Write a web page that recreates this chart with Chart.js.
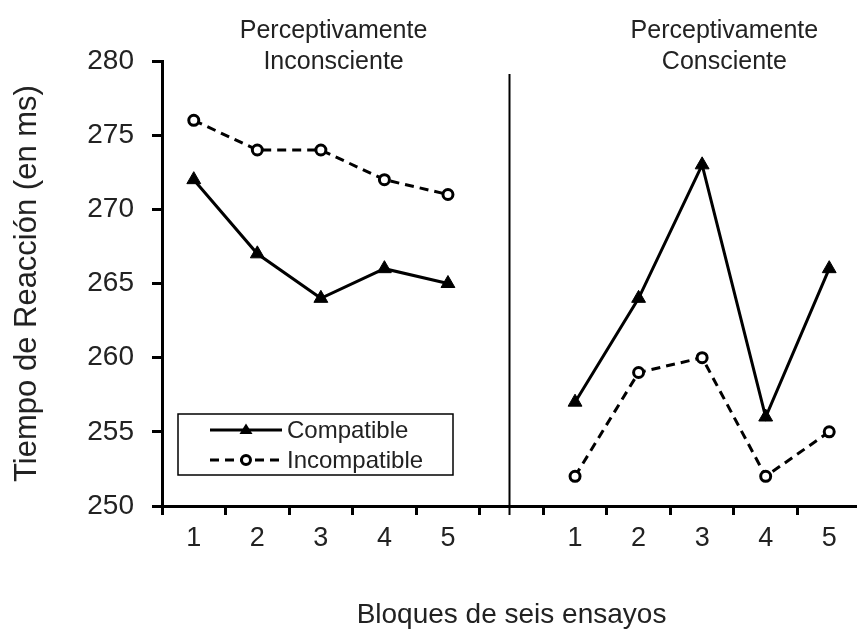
<!DOCTYPE html>
<html>
<head>
<meta charset="utf-8">
<script src="https://cdn.jsdelivr.net/npm/chart.js@4/dist/chart.umd.min.js"></script>
<style>
  html, body { margin: 0; padding: 0; background: #fff; overflow: hidden; }
  #wrap { width: 870px; height: 632px; }
</style>
</head>
<body>
<div id="wrap"><canvas id="chart"></canvas></div>
<script>
// ─── DATOS ──────────────────────────────────
const bloques = ['1', '2', '3', '4', '5'];
const paneles = ['Perceptivamente\nInconsciente', 'Perceptivamente\nConsciente'];

const compatInconsciente = [272, 267, 264, 266, 265];
const incompatInconsciente = [276, 274, 274, 272, 271];
const compatConsciente = [257, 264, 273, 256, 266];
const incompatConsciente = [252, 259, 260, 252, 255];

const yTicks = [250, 255, 260, 265, 270, 275, 280];

// un hueco entre los dos paneles
const labels = [...bloques, '', ...bloques];
const compatible = [...compatInconsciente, null, ...compatConsciente];
const incompatible = [...incompatInconsciente, null, ...incompatConsciente];

const TXT = '#222';
const FONT = "'Liberation Sans', Arial, sans-serif";

// ─── PLUGIN: divisor, títulos de panel y leyenda ──────────
const decor = {
  id: 'decor',
  afterDraw(chart) {
    const { ctx, scales: { x }, chartArea } = chart;
    ctx.save();

    // línea divisoria
    const xd = x.getPixelForValue(5) - 2;
    ctx.strokeStyle = '#000';
    ctx.lineWidth = 2;
    ctx.beginPath();
    ctx.moveTo(xd, 74);
    ctx.lineTo(xd, chartArea.bottom + 9);
    ctx.stroke();

    // títulos de panel
    ctx.fillStyle = TXT;
    ctx.font = '25px ' + FONT;
    ctx.textAlign = 'center';
    ctx.textBaseline = 'middle';
    [2.2, 8.35].forEach((idx, p) => {
      const cx = x.getPixelForValue(idx);
      paneles[p].split('\n').forEach((t, i) => ctx.fillText(t, cx, 31 + i * 31));
    });

    // leyenda
    ctx.lineWidth = 1.5;
    ctx.strokeStyle = '#000';
    ctx.strokeRect(178, 414, 275, 61);
    const rows = [
      { ds: chart.data.datasets[0], y: 430 },
      { ds: chart.data.datasets[1], y: 460 }
    ];
    rows.forEach(({ ds, y }) => {
      ctx.strokeStyle = '#000';
      ctx.lineWidth = ds.borderWidth;
      ctx.setLineDash(ds.borderDash || []);
      ctx.beginPath();
      ctx.moveTo(210, y);
      ctx.lineTo(282, y);
      ctx.stroke();
      ctx.setLineDash([]);
      const mx = 246;
      if (ds.pointStyle === 'triangle') {
        const r = 6.5;
        ctx.fillStyle = '#000';
        ctx.beginPath();
        ctx.moveTo(mx, y - r);
        ctx.lineTo(mx + r, y + r * 0.6);
        ctx.lineTo(mx - r, y + r * 0.6);
        ctx.closePath();
        ctx.fill();
      } else {
        ctx.fillStyle = '#fff';
        ctx.lineWidth = 3;
        ctx.beginPath();
        ctx.arc(mx, y, 4.5, 0, Math.PI * 2);
        ctx.fill();
        ctx.stroke();
      }
      ctx.fillStyle = TXT;
      ctx.font = '24px ' + FONT;
      ctx.textAlign = 'left';
      ctx.fillText(ds.label, 287, y + 1);
    });

    ctx.restore();
  }
};

// ─── GRÁFICO ──────────────────────────────────
new Chart(document.getElementById('chart'), {
  type: 'line',
  data: {
    labels,
    datasets: [
      {
        label: 'Compatible',
        data: compatible,
        borderColor: '#000',
        backgroundColor: '#000',
        borderWidth: 3,
        pointStyle: 'triangle',
        pointRadius: 8,
        pointBorderWidth: 1,
        pointBackgroundColor: '#000',
        tension: 0,
        spanGaps: false
      },
      {
        label: 'Incompatible',
        data: incompatible,
        borderColor: '#000',
        backgroundColor: '#fff',
        borderWidth: 3,
        borderDash: [9, 6],
        pointStyle: 'circle',
        pointRadius: 5,
        pointBorderWidth: 3,
        pointBackgroundColor: '#fff',
        tension: 0,
        spanGaps: false
      }
    ]
  },
  options: {
    responsive: true,
    maintainAspectRatio: false,
    animation: false,
    layout: { padding: { top: 61, right: 8, left: 0, bottom: 0 } },
    plugins: { legend: { display: false }, tooltip: { enabled: false } },
    scales: {
      x: {
        offset: true,
        grid: { offset: true, drawOnChartArea: false, color: '#000', tickLength: 9, tickWidth: 3 },
        border: { color: '#000', width: 3 },
        ticks: { color: TXT, font: { family: FONT, size: 27 }, padding: 7, maxRotation: 0, autoSkip: false },
        title: { display: true, text: 'Bloques de seis ensayos', color: TXT, font: { family: FONT, size: 28 }, padding: { top: 0, bottom: 0 } },
        afterFit(s) { s.height = 126; }
      },
      y: {
        min: 250,
        max: 280,
        afterBuildTicks(s) { s.ticks = yTicks.map(v => ({ value: v })); },
        grid: { drawOnChartArea: false, color: '#000', tickLength: 10, tickWidth: 3 },
        border: { color: '#000', width: 3 },
        ticks: { color: TXT, font: { family: FONT, size: 28 }, padding: 18 },
        title: { display: true, text: 'Tiempo de Reacción (en ms)', color: TXT, font: { family: FONT, size: 31 }, padding: { top: 9, bottom: 0 } },
        afterFit(s) { s.width = 162; }
      }
    }
  },
  plugins: [decor]
});
</script>
</body>
</html>
